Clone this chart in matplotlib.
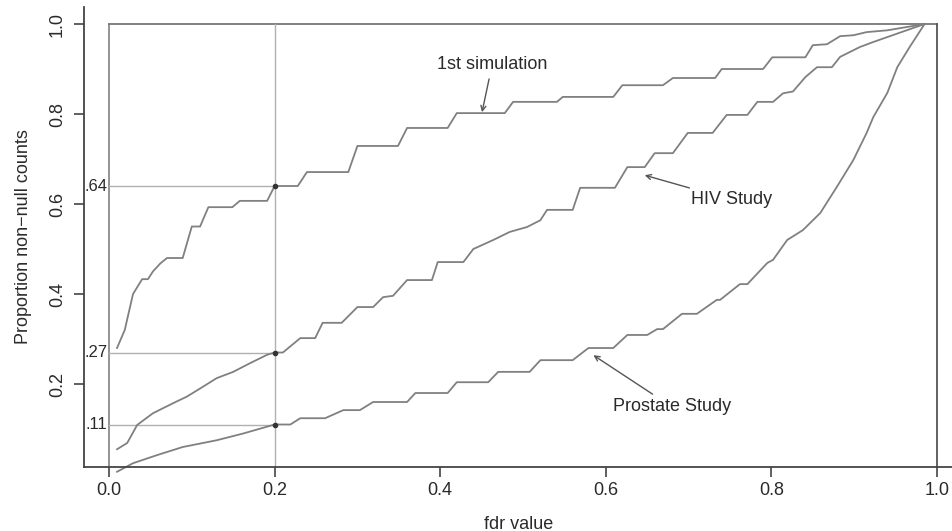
import matplotlib
matplotlib.use("Agg")
import matplotlib.pyplot as plt

plt.rcParams['font.family'] = ['Liberation Sans', 'DejaVu Sans']

# ---- data ----
sim_x = [0.0097, 0.019, 0.029, 0.040, 0.047, 0.053, 0.062, 0.070, 0.089, 0.100, 0.110,
         0.120, 0.149, 0.158, 0.191, 0.200, 0.228, 0.239, 0.289, 0.300, 0.349, 0.360,
         0.409, 0.420, 0.478, 0.488, 0.541, 0.548, 0.609, 0.620, 0.669, 0.681, 0.732,
         0.740, 0.790, 0.801, 0.841, 0.850, 0.867, 0.883, 0.899, 0.915, 0.940, 0.985]
sim_y = [0.28, 0.32, 0.40, 0.433, 0.433, 0.45, 0.468, 0.48, 0.48, 0.55, 0.55,
         0.593, 0.593, 0.607, 0.607, 0.64, 0.64, 0.671, 0.671, 0.729, 0.729, 0.769,
         0.769, 0.802, 0.802, 0.827, 0.827, 0.838, 0.838, 0.864, 0.864, 0.88, 0.88,
         0.90, 0.90, 0.926, 0.926, 0.953, 0.955, 0.973, 0.975, 0.982, 0.986, 1.0]

hiv_x = [0.0097, 0.022, 0.034, 0.053, 0.077, 0.094, 0.110, 0.130, 0.150, 0.170, 0.191,
         0.200, 0.210, 0.231, 0.249, 0.258, 0.281, 0.300, 0.319, 0.331, 0.343, 0.360,
         0.390, 0.397, 0.428, 0.440, 0.464, 0.484, 0.505, 0.521, 0.529, 0.560, 0.569,
         0.611, 0.626, 0.647, 0.659, 0.681, 0.699, 0.729, 0.746, 0.771, 0.783, 0.802,
         0.814, 0.826, 0.841, 0.855, 0.873, 0.883, 0.907, 0.923, 0.940, 0.985]
hiv_y = [0.055, 0.069, 0.109, 0.135, 0.157, 0.172, 0.19, 0.213, 0.227, 0.246, 0.265,
         0.27, 0.27, 0.302, 0.302, 0.336, 0.336, 0.371, 0.371, 0.393, 0.396, 0.431,
         0.431, 0.471, 0.471, 0.50, 0.52, 0.538, 0.549, 0.564, 0.587, 0.587, 0.636,
         0.636, 0.682, 0.682, 0.713, 0.713, 0.758, 0.758, 0.798, 0.798, 0.827, 0.827,
         0.846, 0.85, 0.882, 0.904, 0.904, 0.927, 0.949, 0.96, 0.971, 1.0]

pro_x = [0.0097, 0.029, 0.058, 0.089, 0.130, 0.162, 0.200, 0.219, 0.231, 0.261, 0.283,
         0.303, 0.319, 0.360, 0.370, 0.409, 0.420, 0.458, 0.470, 0.508, 0.521, 0.560,
         0.579, 0.609, 0.626, 0.650, 0.662, 0.669, 0.692, 0.710, 0.734, 0.738, 0.762,
         0.771, 0.795, 0.802, 0.819, 0.838, 0.859, 0.879, 0.899, 0.915, 0.923, 0.940,
         0.952, 0.967, 0.985]
pro_y = [0.005, 0.024, 0.042, 0.06, 0.075, 0.09, 0.11, 0.11, 0.124, 0.124, 0.142,
         0.142, 0.16, 0.16, 0.18, 0.18, 0.204, 0.204, 0.227, 0.227, 0.253, 0.253,
         0.28, 0.28, 0.309, 0.309, 0.322, 0.322, 0.356, 0.356, 0.387, 0.387, 0.422,
         0.422, 0.469, 0.476, 0.52, 0.542, 0.58, 0.638, 0.698, 0.758, 0.793, 0.847,
         0.904, 0.949, 1.0]

cut_x = 0.2
cut_vals = [0.64, 0.27, 0.11]
cut_labels = [".64", ".27", ".11"]

xticks = [0.0, 0.2, 0.4, 0.6, 0.8, 1.0]
yticks = [0.2, 0.4, 0.6, 0.8, 1.0]

# ---- figure ----
W, H = 953, 531
fig = plt.figure(figsize=(W / 100, H / 100), dpi=100)
ax = fig.add_axes([84 / W, (H - 467) / H, (W - 84) / W, (467 - 7) / H])
ax.set_xlim(-0.0302, 1.0193)
ax.set_ylim(0.0156, 1.0378)

for s in ['top', 'right']:
    ax.spines[s].set_visible(False)
for s in ['left', 'bottom']:
    ax.spines[s].set_color('#444444')
    ax.spines[s].set_linewidth(1.3)

fs = 13
tc = '#2a2a2a'
ax.set_xticks(xticks)
ax.set_xticklabels([f"{v:.1f}" for v in xticks], fontsize=fs, color=tc)
ax.set_yticks(yticks)
ax.set_yticklabels([f"{v:.1f}" for v in yticks], fontsize=fs, color=tc,
                   rotation=90, va='center')
ax.tick_params(axis='both', direction='out', length=7, width=1.2, color='#444444')
ax.tick_params(axis='x', pad=4)
ax.tick_params(axis='y', pad=6)

ax.set_xlabel("fdr value", fontsize=fs, color=tc, labelpad=12)
ax.set_ylabel("Proportion non\u2212null counts", fontsize=fs, color=tc, labelpad=12)

# box lines
box_c = '#777777'
ax.plot([0, 1], [1, 1], color=box_c, lw=1.3, clip_on=False)
ax.plot([0, 0], [0.0156, 1], color=box_c, lw=1.1, clip_on=False)
ax.plot([1, 1], [0.0156, 1], color='#555555', lw=1.3, clip_on=False)

# reference lines
ref_c = '#b0b0b0'
ax.plot([cut_x, cut_x], [0.0156, 1], color=ref_c, lw=1.0)
for v, lab in zip(cut_vals, cut_labels):
    ax.plot([0, cut_x], [v, v], color=ref_c, lw=1.0)
    ax.text(-0.002, v, lab, ha='right', va='center', fontsize=12, color=tc)

# curves
cc = '#808080'
for xs, ys in [(sim_x, sim_y), (hiv_x, hiv_y), (pro_x, pro_y)]:
    ax.plot(xs, ys, color=cc, lw=1.3, clip_on=False)

ax.plot([cut_x] * 3, cut_vals, 'o', color='#333333', ms=3, zorder=5)

arrow = dict(arrowstyle='->', color='#555555', lw=1.0, shrinkA=2, shrinkB=0,
             mutation_scale=9)
ax.annotate("1st simulation", xy=(0.4505, 0.804), xytext=(0.4626, 0.909),
            ha='center', va='center', fontsize=fs, color=tc, arrowprops=arrow)
ax.annotate("HIV Study", xy=(0.647, 0.664), xytext=(0.752, 0.609),
            ha='center', va='center', fontsize=fs, color=tc, arrowprops=arrow)
ax.annotate("Prostate Study", xy=(0.585, 0.264), xytext=(0.68, 0.149),
            ha='center', va='center', fontsize=fs, color=tc, arrowprops=arrow)

fig.savefig("out.png", dpi=100)
